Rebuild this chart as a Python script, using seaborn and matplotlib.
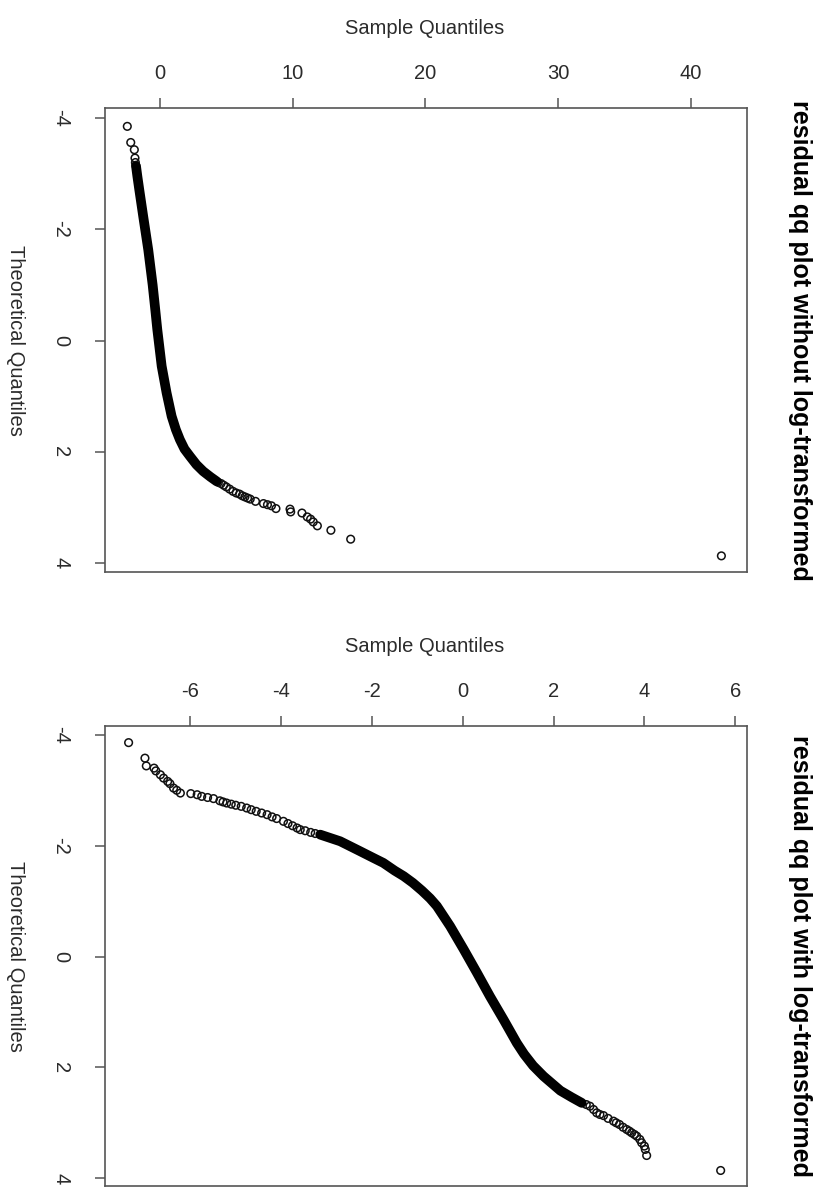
import numpy as np
import matplotlib
matplotlib.use("Agg")
import matplotlib.pyplot as plt
import seaborn as sns

# ---- data (sample quantile, theoretical quantile) ----
# panel 1: residuals without log transform
raw_band_sample = [-1.80, -1.70, -1.55, -1.26, -0.88, -0.55, -0.35, -0.20, 0.13,
                   0.50, 0.88, 1.20, 1.50, 1.85, 2.26, 2.75, 3.26, 3.80, 4.27]
raw_band_theo = [-3.13, -2.95, -2.70, -2.23, -1.63, -1.00, -0.55, -0.20, 0.46,
                 0.94, 1.36, 1.60, 1.78, 1.95, 2.08, 2.23, 2.35, 2.45, 2.53]
raw_pts_sample = [-2.46, -2.20, -1.93, -1.88, -1.85, -1.82,
                  4.4, 4.6, 4.8, 5.0, 5.25, 5.5, 5.75, 6.0, 6.2, 6.4, 6.6, 6.8,
                  7.2, 7.8, 8.1, 8.4, 8.74, 9.8, 9.85, 10.7, 11.1, 11.35, 11.55,
                  11.86, 12.88, 14.37, 42.3]
raw_pts_theo = [-3.85, -3.56, -3.43, -3.28, -3.20, -3.15,
                2.55, 2.57, 2.60, 2.63, 2.67, 2.71, 2.74, 2.76, 2.79, 2.81, 2.83,
                2.85, 2.89, 2.93, 2.95, 2.97, 3.02, 3.03, 3.08, 3.10, 3.17, 3.21,
                3.26, 3.33, 3.41, 3.57, 3.87]

# panel 2: residuals with log transform
log_band_sample = [-3.14, -2.70, -2.26, -1.97, -1.75, -1.50, -1.30, -1.10, -0.90,
                   -0.72, -0.57, -0.28, 0.02, 0.31, 0.60, 0.90, 1.19, 1.35, 1.55,
                   1.78, 2.15, 2.40, 2.62]
log_band_theo = [-2.20, -2.08, -1.90, -1.78, -1.69, -1.55, -1.45, -1.33, -1.19,
                 -1.05, -0.91, -0.55, -0.13, 0.29, 0.72, 1.14, 1.56, 1.76, 1.97,
                 2.16, 2.42, 2.54, 2.64]
log_pts_sample = [-7.36, -7.00, -6.97, -6.80, -6.76, -6.66, -6.59, -6.50, -6.45,
                  -6.37, -6.30, -6.22, -5.99, -5.85, -5.75, -5.62, -5.49, -5.35,
                  -5.28, -5.20, -5.10, -5.00, -4.88, -4.76, -4.66, -4.55, -4.43,
                  -4.31, -4.20, -4.10, -3.95, -3.85, -3.75, -3.65, -3.58, -3.47,
                  -3.35, -3.25,
                  2.72, 2.80, 2.88, 2.95, 3.02, 3.10, 3.20, 3.32, 3.38, 3.45,
                  3.53, 3.61, 3.67, 3.72, 3.78, 3.83, 3.90, 3.94, 4.00, 4.02,
                  4.05, 5.68]
log_pts_theo = [-3.86, -3.58, -3.44, -3.40, -3.35, -3.28, -3.22, -3.16, -3.12,
                -3.04, -3.00, -2.95, -2.94, -2.92, -2.89, -2.87, -2.85, -2.81,
                -2.79, -2.77, -2.75, -2.73, -2.71, -2.68, -2.65, -2.62, -2.59,
                -2.56, -2.52, -2.49, -2.44, -2.40, -2.36, -2.32, -2.29, -2.27,
                -2.24, -2.22,
                2.67, 2.70, 2.76, 2.82, 2.85, 2.87, 2.92, 2.97, 3.00, 3.03,
                3.08, 3.12, 3.15, 3.18, 3.21, 3.24, 3.30, 3.36, 3.42, 3.48,
                3.59, 3.86]

theo_ticks = [-4, -2, 0, 2, 4]
raw_ticks = [0, 10, 20, 30, 40]
log_ticks = [-6, -4, -2, 0, 2, 4, 6]

titles = ["residual qq plot without log-transformed",
          "residual qq plot with log-transformed"]

sns.set_theme(style="white")
plt.rcParams["font.family"] = ["Liberation Sans", "DejaVu Sans"]

W, H = 816, 1188
fig = plt.figure(figsize=(W / 100, H / 100), dpi=100)

def px_box(left, top, right, bottom):
    return [left / W, 1 - bottom / H, (right - left) / W, (bottom - top) / H]

panels = [
    dict(box=(105, 108, 747, 572), xlim=(-4.14, 44.23), ylim=(4.16, -4.18),
         band=(raw_band_sample, raw_band_theo), pts=(raw_pts_sample, raw_pts_theo),
         xticks=raw_ticks, title=titles[0]),
    dict(box=(105, 726, 747, 1186), xlim=(-7.88, 6.26), ylim=(4.14, -4.16),
         band=(log_band_sample, log_band_theo), pts=(log_pts_sample, log_pts_theo),
         xticks=log_ticks, title=titles[1]),
]

ink = "#2b2b2b"
for p in panels:
    left, top, right, bottom = p["box"]
    ax = fig.add_axes(px_box(left, top, right, bottom))

    # dense run of overlapping circles -> thick black stroke
    sns.lineplot(x=p["band"][0], y=p["band"][1], sort=False, ax=ax,
                 color="black", linewidth=7, solid_capstyle="round",
                 solid_joinstyle="round")
    sns.scatterplot(x=p["pts"][0], y=p["pts"][1], ax=ax, marker="o", s=30,
                    facecolor="none", edgecolor="#111111", linewidth=1.1)

    ax.set_xlim(*p["xlim"])
    ax.set_ylim(*p["ylim"])
    ax.xaxis.tick_top()
    ax.set_xticks(p["xticks"])
    ax.set_xticklabels([str(t) for t in p["xticks"]], fontsize=14.5, color=ink)
    ax.set_yticks(theo_ticks)
    ax.set_yticklabels([str(t) for t in theo_ticks], fontsize=14.5, color=ink,
                       rotation=-90, va="center")
    ax.tick_params(axis="both", direction="out", length=7, width=1.1,
                   color="#555555", left=True, top=True, bottom=False)
    ax.tick_params(axis="x", pad=11)
    ax.tick_params(axis="y", pad=18)
    for s in ax.spines.values():
        s.set_color("#555555")
        s.set_linewidth(1.2)
    ax.set_xlabel("")
    ax.set_ylabel("")

    cy = (top + bottom) / 2
    fig.text(425 / W, 1 - (top - 80) / H, "Sample Quantiles", fontsize=14.5,
             color=ink, ha="center", va="center")
    fig.text(15 / W, 1 - cy / H, "Theoretical Quantiles", fontsize=14.5,
             color=ink, ha="center", va="center", rotation=-90)
    fig.text(800 / W, 1 - cy / H, p["title"], fontsize=18, fontweight="bold",
             color="black", ha="center", va="center", rotation=-90)

fig.savefig("out.png", dpi=100)
